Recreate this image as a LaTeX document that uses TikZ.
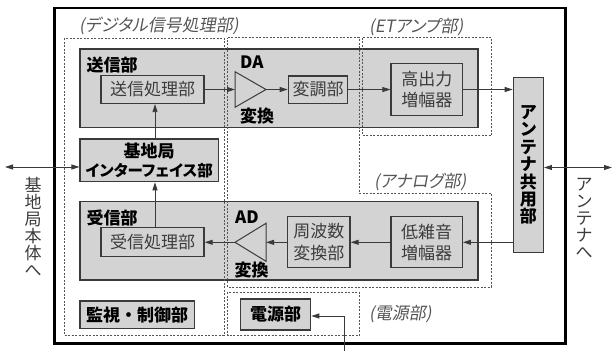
\documentclass[tikz,border=0pt]{standalone}
\usepackage{fontspec}
\setmainfont{Noto Sans CJK JP}
\newfontfamily\slfont[FakeSlant=0.18,RawFeature=+palt]{Noto Sans CJK JP}
\usetikzlibrary{arrows.meta,calc}
\definecolor{boxgray}{HTML}{D3D3D3}
\definecolor{edgec}{HTML}{3A3A3A}
\definecolor{txtc}{HTML}{3C3C3C}
\definecolor{dotc}{HTML}{555555}
\begin{document}
\begin{tikzpicture}[x=1pt,y=-1pt,
  graybox/.style={draw=edgec, fill=boxgray, line width=1.3pt, inner sep=0pt, anchor=center},
  innerbox/.style={graybox, text=txtc, align=center, font=\fontsize{17}{21.5}\selectfont},
  boldbox/.style={graybox, text=black, align=center, font=\bfseries\fontsize{17}{19}\selectfont},
  titletext/.style={font=\bfseries\fontsize{17}{19}\selectfont, text=black, inner sep=0pt, anchor=west},
  arr/.style={draw=edgec, line width=0.9pt, -{Triangle[length=8pt,width=5pt]}},
  darr/.style={draw=edgec, line width=0.9pt, {Triangle[length=8pt,width=5pt]}-{Triangle[length=8pt,width=5pt]}},
  region/.style={draw=dotc, line width=1pt, dash pattern=on 2pt off 1.5pt},
  paren/.style={font=\slfont\fontsize{17}{19}\selectfont, text=dotc, inner sep=0pt, anchor=west},
  sidetext/.style={text=txtc, align=center, inner sep=0pt, font=\fontsize{17}{17}\selectfont},
  tri/.style={draw=edgec, fill=boxgray, line width=1pt, line join=miter}
]
\useasboundingbox (0,0) rectangle (613,351);

% outer frame
\draw[black, line width=2.5pt] (54.5,8) rectangle (565.5,343.5);

% big gray blocks
\node[graybox, minimum width=398pt, minimum height=78.5pt] (tx) at (279,88.25) {};
\node[graybox, minimum width=398pt, minimum height=78.3pt] (rx) at (279,240.85) {};
\node[titletext] (txlabel) at (86.5,65) {送信部};
\node[titletext] (rxlabel) at (86.5,218) {受信部};

% dotted regions
\draw[region] (64,38) rectangle (224,335);
\draw[region] (227.5,37.5) -- (359,37.5) -- (359,193) -- (491,193) -- (491,287) -- (227.5,287) -- cycle;
\draw[region] (362.5,37.5) rectangle (491.5,135.5);
\draw[region] (227.5,292) rectangle (359,335.5);

% region labels
\node[paren] (lbldig) at (79,26) {(デジタル信号処理部)};
\node[paren] (lblet) at (369,27) {(ETアンプ部)};
\node[paren] (lblan) at (374,182) {(アナログ部)};
\node[paren] (lblpw) at (369,314) {(電源部)};

% inner boxes
\node[innerbox, minimum width=103pt, minimum height=28pt] (sproc) at (152.5,89.5) {送信処理部};
\node[innerbox, minimum width=103pt, minimum height=29pt] (rproc) at (152.5,242.3) {受信処理部};
\node[innerbox, minimum width=59.4pt, minimum height=27.3pt] (mod) at (318,89.5) {変調部};
\node[innerbox, minimum width=71.7pt, minimum height=52pt] (hpa) at (426.85,89.5) {高出力\\増幅器};
\node[innerbox, minimum width=62.3pt, minimum height=51pt] (freq) at (318.85,242.3) {周波数\\変換部};
\node[innerbox, minimum width=71.3pt, minimum height=51pt] (lna) at (426.65,242.3) {低雑音\\増幅器};

% bold boxes
\node[boldbox, minimum width=138.3pt, minimum height=42.7pt] (ifc) at (149.2,160.3) {基地局\\{\addfontfeatures{RawFeature=+palt}\fontsize{15.5}{19}\selectfont インターフェイス部}};
\node[boldbox, minimum width=30pt, minimum height=175.4pt, font=\bfseries\fontsize{17}{17.4}\selectfont] (ant) at (528.3,165) {ア\\ン\\テ\\ナ\\共\\用\\部};
\node[boldbox, minimum width=114.3pt, minimum height=27.3pt] (mon) at (137.2,314.7) {監視・制御部};
\node[boldbox, minimum width=70pt, minimum height=31pt] (pwr) at (275.7,314.5) {電源部};

% DA / AD converters
\draw[tri] (235,71.7) -- (266,89.5) -- (235,107.3) -- cycle;
\coordinate (daL) at (235,89.5);
\coordinate (daR) at (266,89.5);
\draw[tri] (235,242.3) -- (266,223.3) -- (266,261.3) -- cycle;
\coordinate (adL) at (235,242.3);
\coordinate (adR) at (266,242.3);
\node[titletext] (dalbl) at (240,61.7) {DA};
\node[titletext] (dachg) at (240,116) {変換};
\node[titletext] (adlbl) at (235,217.5) {AD};
\node[titletext] (adchg) at (234.5,270) {変換};

% transmit chain
\draw[arr] (sproc.east) -- (daL);
\draw[arr] (daR) -- (mod.west);
\draw[arr] (mod.east) -- (hpa.west);
\draw[arr] (hpa.east) -- (hpa.east -| ant.west);

% receive chain
\draw[arr] (lna.east -| ant.west) -- (lna.east);
\draw[arr] (lna.west) -- (freq.east);
\draw[arr] (freq.west) -- (adR);
\draw[arr] (adL) -- (rproc.east);

% vertical links
\coordinate (vx) at (155,0);
\draw[arr] (ifc.north -| vx) -- (sproc.south -| vx);
\draw[arr] (rproc.north -| vx) -- (ifc.south -| vx);

% external links
\coordinate (leftend) at (5,167);
\draw[darr] (leftend) -- (leftend -| ifc.west);
\coordinate (rightend) at (612,167.5);
\draw[darr] (rightend -| ant.east) -- (rightend);
\coordinate (pin) at (344.3,351);
\coordinate (pwry) at (0,316);
\draw[arr] (pin) |- (pwr.east |- pwry);

% side labels
\node[sidetext] (basel) at (33,227) {基\\地\\局\\本\\体\\へ};
\node[sidetext] (antl) at (584,218) {ア\\ン\\テ\\ナ\\へ};
\end{tikzpicture}
\end{document}
